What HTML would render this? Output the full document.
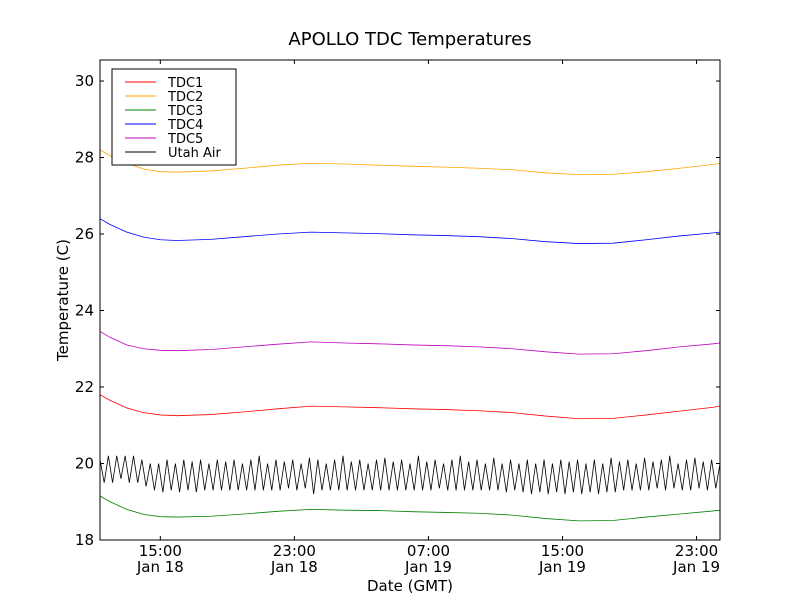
<!DOCTYPE html>
<html><head><meta charset="utf-8"><style>
body{margin:0;background:#fff;font-family:"DejaVu Sans","Liberation Sans",sans-serif}
</style></head><body>
<svg id="c" width="800" height="600" xmlns="http://www.w3.org/2000/svg"></svg>
<script>
const times=[11.4,12,13,14,15,16,18,20,22,24,26,28,30,32,34,36,38,40,42,44,46,48,48.4];
const tdc2=[28.2,28.05,27.85,27.7,27.63,27.62,27.65,27.72,27.8,27.85,27.83,27.8,27.77,27.75,27.72,27.68,27.6,27.55,27.56,27.63,27.72,27.82,27.85];
const tdc4=[26.4,26.25,26.05,25.92,25.85,25.83,25.86,25.93,26.0,26.05,26.03,26.01,25.98,25.96,25.93,25.88,25.8,25.75,25.76,25.85,25.95,26.03,26.05];
const tdc5=[23.45,23.3,23.1,23.0,22.96,22.95,22.98,23.05,23.12,23.18,23.15,23.13,23.1,23.08,23.05,23.0,22.92,22.86,22.87,22.95,23.05,23.13,23.15];
const tdc1=[21.8,21.65,21.45,21.33,21.27,21.25,21.28,21.35,21.43,21.5,21.48,21.46,21.43,21.41,21.38,21.33,21.24,21.17,21.18,21.27,21.37,21.47,21.5];
const tdc3=[19.15,19.0,18.8,18.67,18.61,18.6,18.62,18.68,18.75,18.8,18.78,18.77,18.74,18.72,18.7,18.65,18.56,18.5,18.51,18.6,18.68,18.76,18.78];
const airStart=11.4, airStep=0.25;
const air=[20.1,19.5,20.2,19.5,20.2,19.6,20.2,19.5,20.2,19.5,20.1,19.4,20.0,19.3,20.0,19.25,20.1,19.3,20.0,19.25,20.1,19.3,20.05,19.25,20.1,19.3,20.0,19.3,20.1,19.3,20.05,19.3,20.1,19.3,20.0,19.3,20.1,19.3,20.2,19.3,20.0,19.3,20.1,19.3,20.05,19.35,20.1,19.3,20.0,19.35,20.15,19.2,20.1,19.3,20.0,19.3,20.1,19.3,20.2,19.3,20.05,19.3,20.1,19.3,20.0,19.3,20.1,19.3,20.15,19.3,20.05,19.3,20.1,19.3,20.0,19.3,20.2,19.3,20.05,19.3,20.1,19.35,20.0,19.3,20.1,19.3,20.2,19.3,20.05,19.3,20.1,19.3,20.0,19.3,20.15,19.3,20.0,19.25,20.1,19.3,20.0,19.25,20.1,19.2,20.0,19.25,20.1,19.2,20.0,19.25,20.1,19.2,20.05,19.25,20.1,19.2,20.0,19.25,20.1,19.2,20.0,19.25,20.15,19.25,20.05,19.3,20.1,19.3,20.0,19.3,20.15,19.3,20.05,19.35,20.1,19.3,20.2,19.35,20.0,19.3,20.1,19.3,20.15,19.35,20.05,19.3,20.1,19.35,20.0,19.4,20.1,19.5];
const yTicks=[18,20,22,24,26,28,30];
const xTicks=[15,23,31,39,47];
const xTickTop=["15:00","23:00","07:00","15:00","23:00"];
const xTickBot=["Jan 18","Jan 18","Jan 19","Jan 19","Jan 19"];
const series=[["TDC1","#ff0000",tdc1],["TDC2","#ffa500",tdc2],["TDC3","#008000",tdc3],["TDC4","#0000ff",tdc4],["TDC5","#bf00bf",tdc5]];
const L=100,R=720,T=60,B=540,X0=11.4,X1=48.4,Y0=18,Y1=30.55;
const sx=t=>L+(t-X0)/(X1-X0)*(R-L), sy=v=>B-(v-Y0)/(Y1-Y0)*(B-T);
const svg=document.getElementById('c');const NS="http://www.w3.org/2000/svg";
function mk(tag,at,txt){const e=document.createElementNS(NS,tag);for(const k in at)e.setAttribute(k,at[k]);if(txt!==undefined)e.textContent=txt;svg.appendChild(e);return e;}
const clip=document.createElementNS(NS,'clipPath');clip.setAttribute('id','pc');const cr=document.createElementNS(NS,'rect');cr.setAttribute('x',L);cr.setAttribute('y',T);cr.setAttribute('width',R-L);cr.setAttribute('height',B-T);clip.appendChild(cr);svg.appendChild(clip);
series.forEach(s=>{const p=mk('polyline',{points:s[2].map((v,i)=>sx(times[i])+','+sy(v)).join(' '),fill:'none',stroke:s[1],'stroke-width':0.8,'clip-path':'url(#pc)'});

});
const ap=mk('polyline',{points:air.map((v,i)=>sx(airStart+i*airStep)+','+sy(v)).join(' '),fill:'none',stroke:'#000','stroke-width':0.8,'clip-path':'url(#pc)'});


const fr=mk('rect',{x:L,y:T,width:R-L,height:B-T,fill:'none',stroke:'#000','stroke-width':1});


yTicks.forEach(v=>{const y=sy(v);mk('line',{x1:L,x2:L+4,y1:y,y2:y,stroke:'#000'});mk('line',{x1:R,x2:R-4,y1:y,y2:y,stroke:'#000'});
const t=mk('text',{x:L-6,y:y+5,'text-anchor':'end','font-size':15},String(v));

});
xTicks.forEach((h,i)=>{const x=sx(h);mk('line',{x1:x,x2:x,y1:B,y2:B-4,stroke:'#000'});mk('line',{x1:x,x2:x,y1:T,y2:T+4,stroke:'#000'});
const t=mk('text',{x:x,y:B+16,'text-anchor':'middle','font-size':15},xTickTop[i]);


const t2=mk('text',{x:x,y:B+32,'text-anchor':'middle','font-size':15},xTickBot[i]);

});
</script>
<svg width="800" height="600" style="position:absolute;left:0;top:0" xmlns="http://www.w3.org/2000/svg">
<text x="410" y="45" text-anchor="middle" font-size="18" font-family="DejaVu Sans, Liberation Sans, sans-serif">APOLLO TDC Temperatures</text>
<text x="410" y="591" text-anchor="middle" font-size="15" font-family="DejaVu Sans, Liberation Sans, sans-serif">Date (GMT)</text>
<text transform="translate(68,300) rotate(-90)" text-anchor="middle" font-size="15" font-family="DejaVu Sans, Liberation Sans, sans-serif">Temperature (C)</text>
<g font-size="13" font-family="DejaVu Sans, Liberation Sans, sans-serif">
<rect x="112" y="69" width="124" height="96" fill="#fff" stroke="#000" stroke-width="1"/>
<line x1="125" x2="156" y1="82" y2="82" stroke="#ff0000"/><text x="168" y="87">TDC1</text>
<line x1="125" x2="156" y1="96" y2="96" stroke="#ffa500"/><text x="168" y="101">TDC2</text>
<line x1="125" x2="156" y1="110" y2="110" stroke="#008000"/><text x="168" y="115">TDC3</text>
<line x1="125" x2="156" y1="124" y2="124" stroke="#0000ff"/><text x="168" y="129">TDC4</text>
<line x1="125" x2="156" y1="138" y2="138" stroke="#bf00bf"/><text x="168" y="143">TDC5</text>
<line x1="125" x2="156" y1="152" y2="152" stroke="#000"/><text x="168" y="157">Utah Air</text>
</g>
</svg>
</body></html>
